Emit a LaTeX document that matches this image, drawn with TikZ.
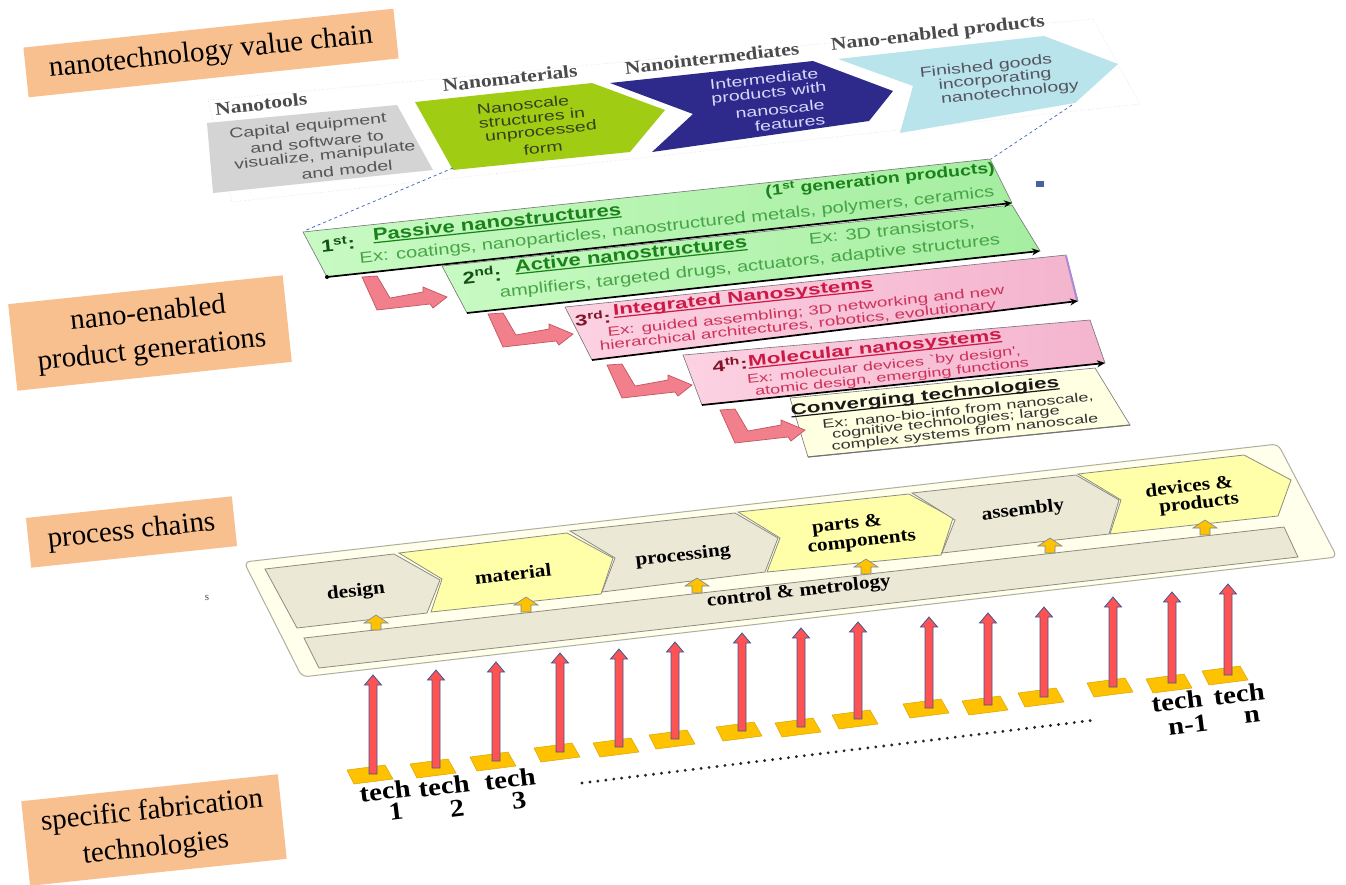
\documentclass[tikz,border=0pt]{standalone}
\usepackage{fontspec}
\setmainfont{Liberation Serif}
\newfontfamily\gsansA{Liberation Sans}[FakeStretch=1.3]
\newfontfamily\gsansB{Liberation Sans}[FakeStretch=1.45]
\newfontfamily\vsans{Liberation Sans}[FakeStretch=1.4]
\newfontfamily\vserif{Liberation Serif}[FakeStretch=1.2]
\newfontfamily\pserif{Liberation Serif}[FakeStretch=1.15]
\usetikzlibrary{arrows.meta}

\definecolor{peach}{RGB}{248,191,143}
\definecolor{vcgray}{RGB}{212,212,212}
\definecolor{vcgreen}{RGB}{160,205,20}
\definecolor{vcblue}{RGB}{46,42,140}
\definecolor{vccyan}{RGB}{185,228,236}
\definecolor{hdgray}{RGB}{75,75,75}
\definecolor{captext}{RGB}{85,85,85}
\definecolor{mattext}{RGB}{55,65,25}
\definecolor{inttext}{RGB}{215,215,250}
\definecolor{fintext}{RGB}{85,85,95}
\definecolor{dashblue}{RGB}{70,110,190}
\definecolor{markblue}{RGB}{70,100,160}
\definecolor{gL}{RGB}{200,250,195}
\definecolor{gR}{RGB}{165,238,160}
\definecolor{pL}{RGB}{252,210,226}
\definecolor{pR}{RGB}{244,180,206}
\definecolor{violetedge}{RGB}{170,140,210}
\definecolor{cream}{RGB}{255,255,226}
\definecolor{gtitle}{RGB}{25,130,25}
\definecolor{gnum}{RGB}{20,80,20}
\definecolor{gtext}{RGB}{70,165,70}
\definecolor{ptitle}{RGB}{205,25,70}
\definecolor{pnum}{RGB}{130,20,40}
\definecolor{ptext}{RGB}{205,50,90}
\definecolor{larrowfill}{RGB}{242,128,140}
\definecolor{larrowline}{RGB}{195,85,95}
\definecolor{panel}{RGB}{255,255,235}
\definecolor{panelline}{RGB}{175,175,160}
\definecolor{beige}{RGB}{236,232,214}
\definecolor{paleyellow}{RGB}{255,255,170}
\definecolor{stepline}{RGB}{140,140,130}
\definecolor{gold}{RGB}{255,194,0}
\definecolor{goldline}{RGB}{120,135,170}
\definecolor{redarrow}{RGB}{255,82,82}
\definecolor{redline}{RGB}{60,90,150}

% underline with a visible rule
\newcommand{\ulined}[1]{\setbox0\hbox{#1}\rlap{\rule[-2.5pt]{\wd0}{1.2pt}}\box0}

% fabrication pad and upward block arrow
\newcommand{\techpad}[2]{%
  \filldraw[padstyle] ({#1-26},{#2-4}) -- ({#1+12},{#2-9}) -- ({#1+20},{#2+5}) -- ({#1-19},{#2+10}) -- cycle;}
\newcommand{\techarrow}[3]{%
  \filldraw[redarr] ({#1-4},{#3}) -- ({#1-4},{#2+10}) -- ({#1-8.5},{#2+10}) -- (#1,#2)
     -- ({#1+8.5},{#2+10}) -- ({#1+4},{#2+10}) -- ({#1+4},{#3}) -- cycle;}
% small yellow up arrow
\newcommand{\uparrowsmall}[2]{%
  \filldraw[smallup] ({#1-5},{#2+7}) -- ({#1-5},{#2}) -- ({#1-12},{#2}) -- (#1,{#2-8})
     -- ({#1+12},{#2}) -- ({#1+5},{#2}) -- ({#1+5},{#2+7}) -- cycle;}

\begin{document}
\begin{tikzpicture}[x=1pt,y=-1pt,
  lbl/.style={fill=peach, rotate=6, inner sep=0pt, align=center,
              font=\fontsize{29}{37}\selectfont},
  vchead/.style={rotate=6.5, text=hdgray, inner sep=0pt,
                 font=\vserif\bfseries\fontsize{18}{20}\selectfont},
  vctext/.style={rotate=6, inner sep=0pt, font=\vsans\fontsize{14}{15}\selectfont},
  gboldA/.style={rotate=6, inner sep=0pt, font=\gsansA\bfseries\fontsize{17}{18}\selectfont},
  gsmallA/.style={rotate=6, inner sep=0pt, font=\gsansA\bfseries\fontsize{15}{16}\selectfont},
  glineA/.style={rotate=6, inner sep=0pt, font=\gsansA\fontsize{15.5}{16}\selectfont},
  gboldB/.style={rotate=6, inner sep=0pt, font=\gsansB\bfseries\fontsize{15.5}{16}\selectfont},
  glineB/.style={rotate=6, inner sep=0pt, font=\gsansB\fontsize{13}{14}\selectfont},
  glineC/.style={rotate=6, inner sep=0pt, font=\gsansB\fontsize{12.5}{13}\selectfont},
  ptext/.style={rotate=6.5, inner sep=0pt, font=\pserif\bfseries\fontsize{18.5}{20}\selectfont},
  tlabel/.style={rotate=7, inner sep=0pt, font=\pserif\bfseries\fontsize{25}{26}\selectfont},
  padstyle/.style={fill=gold, draw=gold!85!black, line width=0.5},
  redarr/.style={fill=redarrow, draw=redline, line width=0.8},
  smallup/.style={fill=gold, draw=goldline, line width=0.6},
  larrow/.style={fill=larrowfill, draw=larrowline, line width=0.7},
  stepbeige/.style={fill=beige, draw=stepline, line width=0.8},
  stepyellow/.style={fill=paleyellow, draw=stepline, line width=0.8},
  genedge/.style={draw=black!55, line width=0.6},
  botline/.style={line width=1.7, draw=black, -{Stealth[length=8pt,width=7pt]}},
  dashlink/.style={draw=dashblue, dashed, line width=0.8}
]
\fill[white] (0,0) rectangle (1346,884);
\useasboundingbox (0,0) rectangle (1346,884);

% ---------------- value chain ----------------
\draw[gray!30, dotted, line width=0.6] (208,100) -- (1093,19) -- (1140,104) -- (232,202) -- cycle;
\fill[vcgray] (207,123) -- (397,105) -- (433,170) -- (213,193) -- cycle;
\fill[vcgreen] (415,102) -- (592,83) -- (665,110) -- (630,152) -- (453,170) -- cycle;
\fill[vcblue] (610,83) -- (813,61) -- (893,91) -- (869,121) -- (652,152) -- (693,114) -- cycle;
\fill[vccyan] (838,59) -- (1044,36) -- (1118,64) -- (1075,103) -- (900,133) -- (913,86) -- cycle;

\node[vchead] (hTools) at (261,104) {Nanotools};
\node[vchead] (hMat) at (510,78) {Nanomaterials};
\node[vchead] (hInt) at (712,58) {Nanointermediates};
\node[vchead] (hProd) at (938,34) {Nano-enabled products};

\begin{scope}[every node/.style={vctext, text=captext}]
\node (cap1) at (308,127) {Capital equipment};
\node (cap2) at (317,142) {and software to};
\node (cap3) at (325,156) {visualize, manipulate};
\node (cap4) at (347,170) {and model};
\end{scope}
\begin{scope}[every node/.style={vctext, text=mattext}]
\node (mat1) at (523,105) {Nanoscale};
\node (mat2) at (532,118) {structures in};
\node (mat3) at (541,132) {unprocessed};
\node (mat4) at (543,148) {form};
\end{scope}
\begin{scope}[every node/.style={vctext, text=inttext}]
\node (int1) at (764,79) {Intermediate};
\node (int2) at (769,94) {products with};
\node (int3) at (780,109) {nanoscale};
\node (int4) at (790,123) {features};
\end{scope}
\begin{scope}[every node/.style={vctext, text=fintext}]
\node (fin1) at (986,67) {Finished goods};
\node (fin2) at (995,80) {incorporating};
\node (fin3) at (1010,93) {nanotechnology};
\end{scope}

% ---------------- product generations ----------------
\shadedraw[left color=cream, right color=cream, genedge] (790,398) -- (1095,368) -- (1130,425) -- (808,457) -- cycle;
\draw[black!55, line width=1.2] (808,457) -- (1130,425);

\shadedraw[left color=pL, right color=pR, genedge] (683,355) -- (1090,320) -- (1105,363) -- (702,405) -- cycle;
\draw[botline] (702,405) -- (1105,363);

\shadedraw[left color=pL, right color=pR, genedge] (565,307) -- (1066,255) -- (1078,301) -- (592,360) -- cycle;
\draw[violetedge, line width=2] (1066,256) -- (1077,300);
\draw[botline] (592,360) -- (1078,301);

\shadedraw[left color=gL, right color=gR, genedge] (442,266) -- (1012,205) -- (1040,251) -- (467,313) -- cycle;
\draw[botline] (467,313) -- (1040,251);

\shadedraw[left color=gL, right color=gR, genedge] (303,232) -- (990,159) -- (1012,203) -- (327,277) -- cycle;
\draw[botline] (327,277) -- (1012,203);
\fill (327,277) circle (2);

% links from the value chain to the first generation
\coordinate (vcLeft) at (453,168);
\coordinate (genLeft) at (304,231);
\coordinate (vcRight) at (1072,105);
\coordinate (genRight) at (991,159);
\draw[dashlink] (vcLeft) -- (genLeft);
\draw[dashlink] (vcRight) -- (genRight);
\fill[markblue] (1036,181) rectangle (1044,187);

% generation 1
\node[gboldA, text=gnum] (g1n) at (338,244) {1\textsuperscript{st}:};
\node[gboldA, text=gtitle] (g1t) at (497,223) {\ulined{Passive nanostructures}};
\node[gsmallA, text=gtitle] (g1s) at (880,180) {(1\textsuperscript{st} generation products)};
\node[glineA, text=gtext] (g1e) at (677,226) {Ex: coatings, nanoparticles, nanostructured metals, polymers, ceramics};
% generation 2
\node[gboldA, text=gnum] (g2n) at (482,275) {2\textsuperscript{nd}:};
\node[gboldA, text=gtitle] (g2t) at (631,255) {\ulined{Active nanostructures}};
\node[glineA, text=gtext] (g2s) at (892,231) {Ex: 3D transistors,};
\node[glineA, text=gtext] (g2e) at (750,267) {amplifiers, targeted drugs, actuators, adaptive structures};
% generation 3
\node[gboldB, text=pnum] (g3n) at (593,318) {3\textsuperscript{rd}:};
\node[gboldB, text=ptitle] (g3t) at (743,298) {\ulined{Integrated Nanosystems}};
\node[glineB, text=ptext] (g3e) at (806,312) {Ex: guided assembling; 3D networking and new};
\node[glineB, text=ptext] (g3f) at (798,326) {hierarchical architectures, robotics, evolutionary};
% generation 4
\node[gboldB, text=pnum] (g4n) at (730,364) {4\textsuperscript{th}:};
\node[gboldB, text=ptitle] (g4t) at (875,349) {\ulined{Molecular nanosystems}};
\node[glineC, text=ptext] (g4e) at (884,366) {Ex: molecular devices `by design',};
\node[glineC, text=ptext] (g4f) at (892,378) {atomic design, emerging functions};
% converging technologies
\node[gboldB, text=black!90] (g5t) at (925,397) {\ulined{Converging technologies}};
\node[glineC, text=black!80] (g5e) at (958,411) {Ex: nano-bio-info from nanoscale,};
\node[glineC, text=black!80] (g5f) at (946,423) {cognitive technologies; large};
\node[glineC, text=black!80] (g5g) at (965,433) {complex systems from nanoscale};

% bent arrows between generations
\foreach \ox/\oy in {362/277, 488/314, 607/365, 720/410}{
  \begin{scope}[shift={(\ox,\oy)}]
    \filldraw[larrow] (0,0) -- (15,-1) -- (28,21) -- (61,15) -- (61,10) -- (85,20)
       -- (71,31) -- (68,27) -- (15,33) -- cycle;
  \end{scope}
}

% ---------------- process chain ----------------
\filldraw[fill=panel, draw=panelline, line width=1, rounded corners=6]
  (244,562) -- (1278,444) -- (1337,557) -- (302,677) -- cycle;
\filldraw[stepbeige] (265,569) -- (394,554) -- (440,580) -- (427,613) -- (297,628) -- cycle;
\filldraw[stepyellow] (399,553) -- (567,533) -- (613,558) -- (601,594) -- (431,612) -- (442,579) -- cycle;
\filldraw[stepbeige] (570,531) -- (735,513) -- (778,538) -- (765,572) -- (602,592) -- (615,558) -- cycle;
\filldraw[stepyellow] (738,512) -- (909,494) -- (953,518) -- (941,555) -- (767,572) -- (780,538) -- cycle;
\filldraw[stepbeige] (912,493) -- (1076,475) -- (1119,500) -- (1109,534) -- (942,553) -- (955,520) -- cycle;
\filldraw[stepyellow] (1078,474) -- (1244,455) -- (1291,480) -- (1278,516) -- (1110,534) -- (1121,500) -- cycle;
\filldraw[stepbeige] (304,638) -- (1284,527) -- (1298,557) -- (319,668) -- cycle;

\uparrowsmall{376}{623}
\uparrowsmall{526}{605}
\uparrowsmall{697}{586}
\uparrowsmall{866}{567}
\uparrowsmall{1050}{546}
\uparrowsmall{1205}{528}

\node[ptext] (tDesign) at (356,592) {design};
\node[ptext] (tMat) at (513,574) {material};
\node[ptext] (tProc) at (683,556) {processing};
\node[ptext] (tParts1) at (847,525) {parts \&};
\node[ptext] (tParts2) at (862,543) {components};
\node[ptext] (tAsm) at (1023,511) {assembly};
\node[ptext] (tDev1) at (1189,486) {devices \&};
\node[ptext] (tDev2) at (1199,504) {products};
\node[ptext] (tCtrl) at (799,592) {control \& metrology};

% ---------------- fabrication technologies ----------------
\foreach \x/\t/\b in {373/675/774, 436/670/768, 496/662/761, 560/653/752, 619/649/747,
                      675/642/739, 742/633/731, 801/628/727, 858/622/719, 929/617/708,
                      988/613/705, 1044/607/697, 1113/597/687, 1172/592/683, 1228/584/675}{
  \techpad{\x}{\b}
  \techarrow{\x}{\t}{\b}
}
\coordinate (dotA) at (582,783);
\coordinate (dotB) at (1095,720);
\draw[black!85, line width=3.2, line cap=round, dash pattern=on 0pt off 8pt] (dotA) -- (dotB);

\node[tlabel] (tech1) at (385,791) {tech};
\node[tlabel] (num1) at (396,811) {1};
\node[tlabel] (tech2) at (444,786) {tech};
\node[tlabel] (num2) at (457,808) {2};
\node[tlabel] (tech3) at (510,779) {tech};
\node[tlabel] (num3) at (519,801) {3};
\node[tlabel] (techm) at (1177,701) {tech};
\node[tlabel] (numm) at (1188,725) {n-1};
\node[tlabel] (techn) at (1239,694) {tech};
\node[tlabel] (numn) at (1252,717) {n};

\node[inner sep=0pt, text=black!70, font=\fontsize{11}{11}\selectfont] (stray) at (207,598) {s};

% ---------------- layer labels ----------------
\node[lbl, minimum width=372, minimum height=50] (lab1) at (211,53) {nanotechnology value chain};
\node[lbl, minimum width=276, minimum height=87] (lab2) at (150,333) {nano-enabled\\product generations};
\node[lbl, minimum width=207, minimum height=50] (lab3) at (131.5,532) {process chains};
\node[lbl, minimum width=258, minimum height=85] (lab4) at (154,830) {specific fabrication\\technologies};
\end{tikzpicture}
\end{document}
